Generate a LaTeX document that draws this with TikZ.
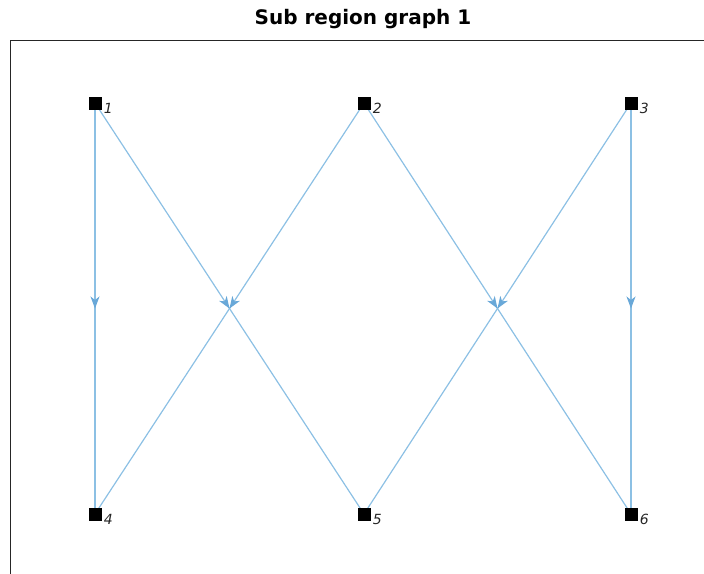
\documentclass[tikz,border=0pt]{standalone}
\usepackage{fontspec}
\setmainfont{DejaVu Sans}
\usetikzlibrary{arrows.meta,decorations.markings,backgrounds}
\definecolor{edgeblue}{RGB}{140,192,228}
\definecolor{arrowblue}{RGB}{105,168,216}
\definecolor{axisgray}{RGB}{38,38,38}
\tikzset{
  vert/.style={fill=black, minimum size=13pt, inner sep=0pt},
  vlabel/.style={font=\fontsize{14}{14}\selectfont\itshape, text=black!85, inner sep=0pt, anchor=west, xshift=2pt, yshift=-5pt},
  digedge/.style={edgeblue, line width=1.2pt, postaction={decorate},
    decoration={markings, mark=at position 0.5 with {\arrow[arrowblue]{Stealth[length=12pt,width=9pt,inset=3.5pt]}}}},
}
\begin{document}
\begin{tikzpicture}[x=1pt,y=-1pt]
  \useasboundingbox (0,0) rectangle (704,573);
  \clip (0,0) rectangle (704,573);
  % title and axes box
  \node[font=\fontsize{20}{20}\selectfont\bfseries] (title) at (363,19) {Sub region graph 1};
  \draw[axisgray, line width=1pt] (10.5,40.5) rectangle (730,600);
  % vertices
  \node[vert, label={[vlabel]east:1}] (n1) at (95,103) {};
  \node[vert, label={[vlabel]east:2}] (n2) at (364,103) {};
  \node[vert, label={[vlabel]east:3}] (n3) at (631,103) {};
  \node[vert, label={[vlabel]east:4}] (n4) at (95,514) {};
  \node[vert, label={[vlabel]east:5}] (n5) at (364,514) {};
  \node[vert, label={[vlabel]east:6}] (n6) at (631,514) {};
  % edges
  \begin{scope}[on background layer]
  \draw[digedge] (n1.center) -- (n4.center);
  \draw[digedge] (n1.center) -- (n5.center);
  \draw[digedge] (n2.center) -- (n4.center);
  \draw[digedge] (n2.center) -- (n6.center);
  \draw[digedge] (n3.center) -- (n5.center);
  \draw[digedge] (n3.center) -- (n6.center);
  \end{scope}
\end{tikzpicture}
\end{document}
